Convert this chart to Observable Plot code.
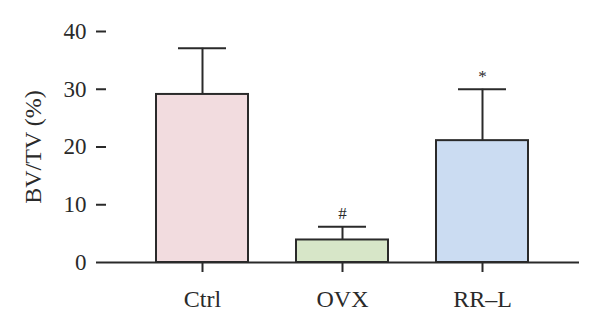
<!DOCTYPE html>
<html><head><meta charset="utf-8">
<script src="https://cdn.jsdelivr.net/npm/d3@7"></script>
<script src="https://cdn.jsdelivr.net/npm/@observablehq/plot@0.6"></script>
<style>body{margin:0;background:#fff}</style>
</head><body><div id="chart"></div>
<script>
const groups = ["Ctrl", "OVX", "RR–L"];
const means = [29.1, 3.9, 21.1];
const sds = [8.0, 2.3, 8.9];
const marks = ["", "#", "*"];
const fills = ["#f2dcdf", "#d7e6c8", "#cbdcf2"];
const yTicks = [0, 10, 20, 30, 40];

const data = groups.map((g, i) => ({g, mean: means[i], top: means[i] + sds[i], mark: marks[i], fill: fills[i]}));
const ink = "#2a2a2a";

const chart = Plot.plot({
  width: 600, height: 329,
  marginLeft: 106, marginRight: 21, marginTop: 31, marginBottom: 67,
  style: {fontFamily: "'Liberation Serif', serif", fontSize: "23px", color: ink, background: "#fff"},
  x: {domain: groups, paddingInner: 0.34, paddingOuter: 0.35, label: null},
  y: {domain: [0, 40], label: null},
  marks: [
    Plot.ruleX(data, {x: "g", y1: "mean", y2: "top", stroke: ink, strokeWidth: 2}),
    Plot.tickY(data, {x: "g", y: "top", stroke: ink, strokeWidth: 2, insetLeft: 22, insetRight: 22}),
    Plot.barY(data, {x: "g", y: "mean", fill: "fill", stroke: ink, strokeWidth: 2}),
    Plot.text(data, {x: "g", y: "top", text: "mark", dy: -13, fontSize: 17, fill: ink}),
    Plot.ruleY([0], {stroke: ink, strokeWidth: 2}),
    Plot.ruleX([0], {x: () => 0, frameAnchor: "left", stroke: ink, strokeWidth: 2}),
    Plot.axisY({ticks: yTicks, tickSize: 10, tickPadding: 10, tickFormat: d => d, stroke: ink, strokeWidth: 2, label: null, fontSize: 23}),
    Plot.axisX({tickSize: 10, tickPadding: 17, stroke: ink, strokeWidth: 2, label: null, fontSize: 24}),
    Plot.text(["BV/TV (%)"], {frameAnchor: "left", dx: -73, rotate: -90, textAnchor: "middle", fontSize: 24, fill: ink})
  ]
});
document.getElementById("chart").append(chart);
</script></body></html>
